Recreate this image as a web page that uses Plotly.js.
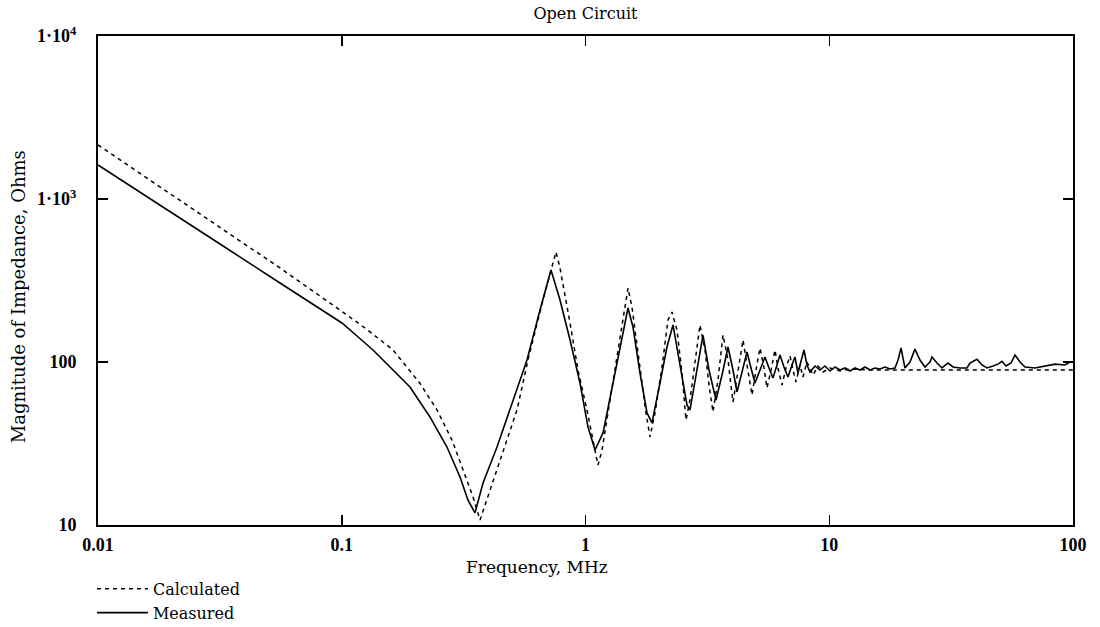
<!DOCTYPE html>
<html>
<head>
<meta charset="utf-8">
<script src="https://cdn.plot.ly/plotly-3.0.1.min.js"></script>
<style>html,body{margin:0;padding:0;background:#fff;}#chart{width:1100px;height:627px;}</style>
</head>
<body>
<div id="chart"></div>
<script>
// Frequency in MHz, impedance magnitude in Ohms
const measuredFreq = [
  0.01, 0.01634, 0.03166, 0.0558, 0.1002, 0.1155, 0.1343, 0.1578, 0.1905, 0.2301, 0.2702, 0.3056, 0.3296, 0.3521,
  0.3798, 0.4335, 0.49, 0.5754, 0.6506, 0.7218, 0.7861, 0.8641, 0.9493, 1.024, 1.094, 1.18,
  1.297, 1.412, 1.494, 1.566, 1.673, 1.788, 1.874, 2.021, 2.159, 2.286, 2.442, 2.608, 2.684,
  2.867, 3.034, 3.211, 3.431, 3.631, 3.843, 4.028, 4.183, 4.386, 4.598, 4.775, 4.959, 5.199,
  5.45, 5.659, 5.877, 6.104, 6.279, 6.521, 6.771, 7.034, 7.234, 7.442, 7.658, 7.875, 8.1, 8.337,
  8.74, 9.16, 9.6, 10.07, 10.56, 11.07, 11.6, 12.16, 12.75, 13.37, 14.02, 14.7, 15.41, 16.15,
  16.93, 17.75, 18.61, 19.15, 19.7, 20.07, 20.45, 21.44, 22.47, 23.56, 24.7, 25.9, 26.39, 27.67,
  29.01, 30.7, 32.19, 34.39, 36.74, 37.79, 40.38, 42.33, 44.38, 46.97, 49.24, 51.13, 53.09,
  55.66, 57.81, 60.62, 63.55, 69.86, 76.77, 84.39, 92.73, 97.21, 100
];
const measuredZ = [
  1616, 1000, 529.6, 305.3, 173.5, 144.4, 118.5, 93.2, 70.3, 46.0, 30.1, 19.7, 14.2, 11.87,
  18.1, 30.1, 50.8, 102.9, 208.4, 366.7, 240, 136.5, 74.3, 39.9, 28.85, 36.7,
  74.3, 142.3, 214.5, 163.9, 85.6, 48.7, 42.3, 74.3, 123.6, 168.7, 93.2, 54.5, 50.8,
  89.3, 146.4, 89.3, 58.5, 83.2, 123.6, 89.3, 65.5, 86.8, 115.2, 91.9, 74.3, 89.3,
  107.3, 91.9, 79.8, 95.9, 110.4, 93.2, 80.9, 95.9, 107.3, 85.6, 100, 118.5, 95.9, 86.8,
  94.5, 89.3, 94.5, 88, 93.2, 89.3, 91.9, 88, 91.9, 89.3, 93.2, 89.3, 91.9, 90.6,
  93.2, 90.6, 91.9, 102.9, 122, 102.9, 91.9, 100, 120, 102.9, 93.2, 100, 107.3, 98.6,
  91.9, 98.6, 93.2, 91.9, 91.9, 98.6, 104, 95.9, 91.9, 94.5, 97, 101, 94.5,
  98.6, 110.4, 100, 93.2, 91.9, 94.5, 97, 95.9, 100, 100
];
const calculatedFreq = [
  0.01, 0.01634, 0.03166, 0.0558, 0.0983, 0.1246, 0.1623, 0.2089, 0.2459, 0.2834, 0.3144, 0.3456, 0.3692,
  0.4058, 0.4587, 0.5236, 0.5808, 0.6693, 0.7568, 0.7861, 0.8641, 0.9316, 1.014, 1.094, 1.125,
  1.169, 1.26, 1.359, 1.494, 1.551, 1.673, 1.771, 1.839, 1.928, 2.06, 2.18, 2.264, 2.374,
  2.488, 2.584, 2.684, 2.814, 2.949, 3.092, 3.211, 3.335, 3.496, 3.665, 3.843, 4.028, 4.223,
  4.428, 4.598, 4.821, 5.006, 5.199, 5.399, 5.554, 5.768, 5.989, 6.162, 6.399, 6.645, 6.902,
  7.099, 7.303, 7.586, 7.801, 8.1, 8.577, 8.99, 9.43, 10.07, 11.07, 12.16, 14.7, 19.51, 31.29,
  50.17, 100
];
const calculatedZ = [
  2145, 1308, 664, 377.4, 208.4, 161.7, 118.5, 74.3, 50.8, 33.2, 21.8, 14.85, 10.73,
  16.4, 28.85, 50.8, 102.9, 240, 473, 377, 173.5, 89.3, 50.8, 27.6, 23.3,
  28.85, 58.5, 118.5, 284, 217.5, 93.2, 48.7, 34.7, 48.7, 93.2, 181, 202.6, 157,
  85.6, 44.1, 58.5, 102.9, 168.7, 118.5, 72.3, 49.4, 77.6, 146.4, 102.9, 56.8, 86.8,
  136.5, 95.9, 62.7, 89.3, 121.9, 91.9, 69.3, 89.3, 118.5, 91.9, 72.3, 91.9, 108.9,
  89.3, 75.4, 95.9, 80.9, 100, 83.2, 94.5, 86.8, 91.9, 88.1, 90.6, 89.3, 89.3, 89.3,
  89.3, 89.3
];
const seriesNames = ['Calculated', 'Measured'];
const xTickVals = [0.01, 0.1, 1, 10, 100];
const xTickText = ['0.01', '0.1', '1', '10', '100'];
const yTickVals = [10, 100, 1000, 10000];
const yTickText = ['10', '100', '1\u00b710<sup>3</sup>', '1\u00b710<sup>4</sup>'];
const chartTitle = 'Open Circuit';
const xTitle = 'Frequency, MHz';
const yTitle = 'Magnitude of Impedance, Ohms';

const boldSerif = 'Liberation Serif, Times New Roman, serif';
const textSerif = 'DejaVu Serif, serif';

const traces = [
  {x: calculatedFreq, y: calculatedZ, name: seriesNames[0], type: 'scatter', mode: 'lines',
   line: {color: '#000', width: 1.5, dash: '4px,4px'}},
  {x: measuredFreq, y: measuredZ, name: seriesNames[1], type: 'scatter', mode: 'lines',
   line: {color: '#000', width: 1.6}}
];

const layout = {
  width: 1100, height: 627,
  margin: {l: 98, r: 27, t: 36, b: 102, autoexpand: false},
  paper_bgcolor: '#fff', plot_bgcolor: '#fff',
  font: {family: textSerif, color: '#000', size: 14},
  title: {text: chartTitle, x: 0.5, xref: 'paper', xanchor: 'center', y: 0.978, yanchor: 'middle',
          font: {family: textSerif, size: 16, color: '#000'}},
  xaxis: {
    type: 'log', range: [-2, 2], tickvals: xTickVals, ticktext: xTickText,
    ticks: 'inside', ticklen: 10, tickwidth: 1.5, tickcolor: '#000',
    showline: true, linecolor: '#000', linewidth: 2, mirror: 'ticks',
    showgrid: false, zeroline: false, automargin: false,
    tickfont: {family: boldSerif, size: 18, weight: 'bold', color: '#000'},
    ticklabelstandoff: 2
  },
  yaxis: {
    type: 'log', range: [1, 4], tickvals: yTickVals, ticktext: yTickText,
    ticks: 'inside', ticklen: 10, tickwidth: 1.5, tickcolor: '#000',
    showline: true, linecolor: '#000', linewidth: 2, mirror: 'ticks',
    showgrid: false, zeroline: false, automargin: false,
    tickfont: {family: boldSerif, size: 18, weight: 'bold', color: '#000'},
    ticklabelstandoff: 16
  },
  annotations: [
    {text: xTitle, xref: 'paper', yref: 'paper', x: 0.45, y: -0.0864, xanchor: 'center', yanchor: 'middle',
     showarrow: false, font: {family: textSerif, size: 17, color: '#000'}},
    {text: yTitle, xref: 'paper', yref: 'paper', x: -0.082, y: 0.466, xanchor: 'center', yanchor: 'middle',
     textangle: -90, showarrow: false, font: {family: textSerif, size: 18, color: '#000'}}
  ],
  showlegend: true,
  legend: {x: -0.0062, y: -0.096, xanchor: 'left', yanchor: 'top', orientation: 'v',
           bgcolor: 'rgba(0,0,0,0)', tracegroupgap: 0, itemwidth: 51,
           font: {family: textSerif, size: 16, color: '#000'}, traceorder: 'normal'}
};

Plotly.newPlot('chart', traces, layout, {staticPlot: true, displayModeBar: false});
</script>
</body>
</html>
